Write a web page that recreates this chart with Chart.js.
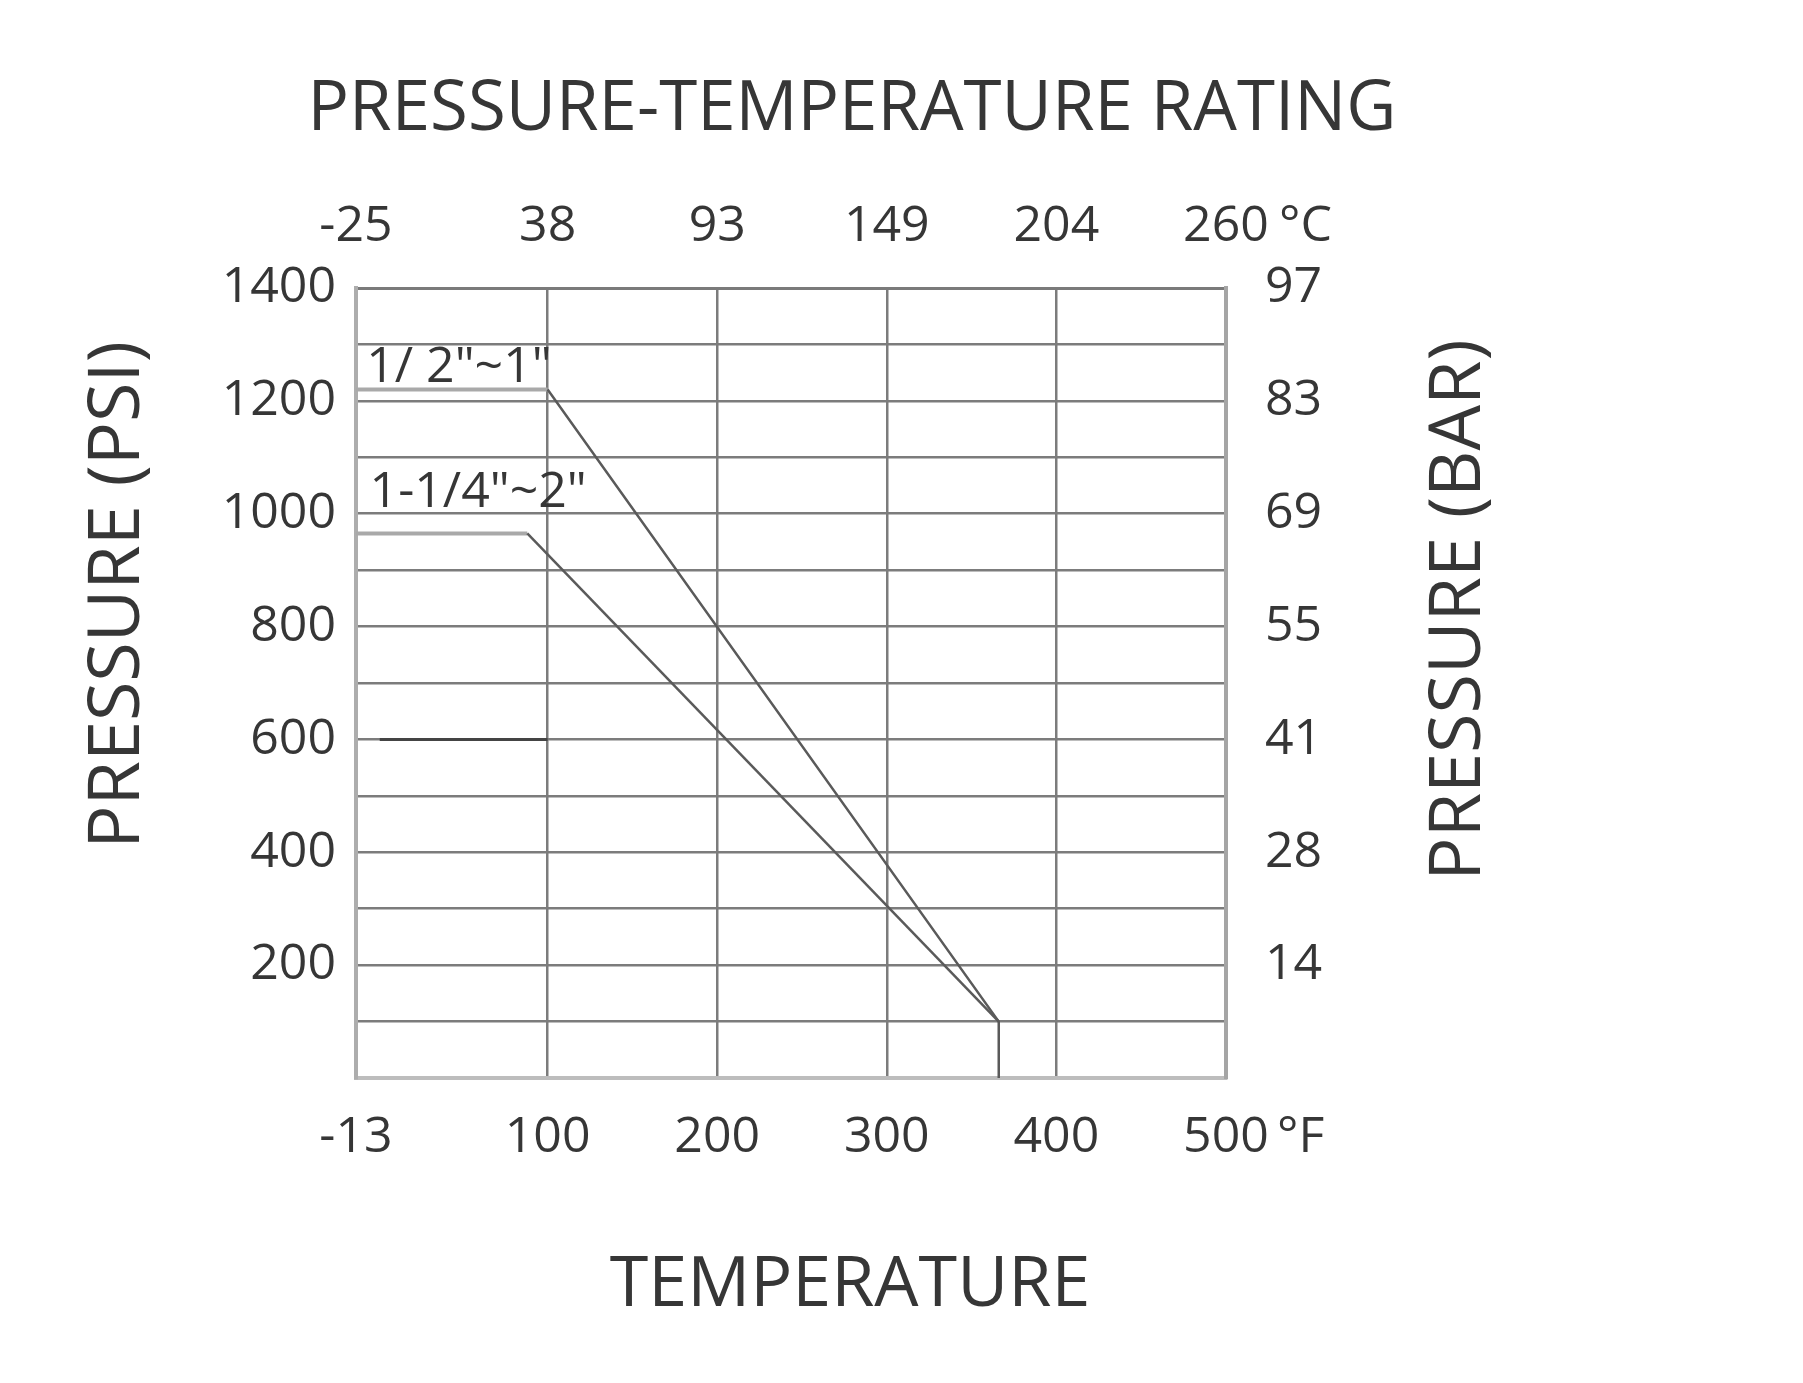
<!DOCTYPE html>
<html>
<head>
<meta charset="utf-8">
<title>Pressure-Temperature Rating</title>
<script src="https://cdn.jsdelivr.net/npm/chart.js@4.4.1/dist/chart.umd.min.js"></script>
<style>
  html, body { margin: 0; padding: 0; background: #fff; }
  #wrap { width: 1803px; height: 1383px; }
</style>
</head>
<body>
<div id="wrap"><canvas id="chart" width="1803" height="1383"></canvas></div>
<script>
  /* ---- data ---- */
  var TEMP_F_TICKS   = [-13, 100, 200, 300, 400, 500];
  var TEMP_C_LABELS  = ['-25', '38', '93', '149', '204', '260'];
  var PSI_LABELED    = [200, 400, 600, 800, 1000, 1200, 1400];
  var BAR_LABELS     = ['14', '28', '41', '55', '69', '83', '97'];

  var SERIES_NAMES   = ['1/ 2"~1"', '1-1/4"~2"'];
  var SMALL_F        = [-13, 100, 366, 366];
  var SMALL_PSI      = [1220, 1220, 100, 0];
  var LARGE_F        = [-13, 88, 366];
  var LARGE_PSI      = [965, 965, 100];
  var MARK600_F      = [1, 100];
  var MARK600_PSI    = [600, 600];

  var TEXT  = '#363636';
  var GRID  = '#7c7c7c';
  var FLAT  = '#a9a9a9';
  var SLOPE = '#5a5a5a';
  var FONT  = '"Open Sans", "Noto Sans", sans-serif';

  function toPoints(xs, ys) {
    return xs.map(function (x, i) { return { x: x, y: ys[i] }; });
  }
  function isFlat(ctx) { return ctx.p0.parsed.y === ctx.p1.parsed.y; }

  // flat runs are drawn light and thick, the derating slopes dark and thin
  var seriesStyle = {
    fill: false,
    tension: 0,
    pointRadius: 0,
    borderColor: SLOPE,
    borderWidth: 2.5,
    segment: {
      borderColor: function (ctx) { return isFlat(ctx) ? FLAT : SLOPE; },
      borderWidth: function (ctx) { return isFlat(ctx) ? 4 : 2.5; }
    }
  };

  var textPlugin = {
    id: 'ratingText',
    afterDraw: function (chart) {
      var ctx = chart.ctx;
      var xs = chart.scales.x, ys = chart.scales.y;
      ctx.save();
      ctx.fillStyle = TEXT;

      ctx.font = '69px ' + FONT;
      ctx.textAlign = 'center';
      ctx.textBaseline = 'middle';
      ctx.fillText('PRESSURE-TEMPERATURE RATING', 852, 110);

      ctx.font = '70px ' + FONT;
      ctx.fillText('TEMPERATURE', 850, 1286);

      ctx.font = '72px ' + FONT;
      ctx.save();
      ctx.translate(118, 595);
      ctx.rotate(-Math.PI / 2);
      ctx.fillText('PRESSURE (PSI)', 0, 0);
      ctx.restore();

      ctx.save();
      ctx.translate(1459, 610);
      ctx.rotate(-Math.PI / 2);
      ctx.fillText('PRESSURE (BAR)', 0, 0);
      ctx.restore();

      // units after the last temperature ticks
      var xEnd = xs.getPixelForValue(500);
      ctx.font = '50px ' + FONT;
      ctx.textAlign = 'left';
      ctx.fillText('\u00B0C', xEnd + 53, 227);
      ctx.fillText('\u00B0F', xEnd + 51, 1138);

      // size labels on the curves
      ctx.font = '50px ' + FONT;
      ctx.fillText(SERIES_NAMES[0], xs.getPixelForValue(-7), ys.getPixelForValue(1258));
      ctx.fillText(SERIES_NAMES[1], xs.getPixelForValue(-5), ys.getPixelForValue(1038));
      ctx.restore();
    }
  };

  function fixedTicks(scale) {
    scale.ticks = TEMP_F_TICKS.map(function (v) { return { value: v }; });
  }

  var tickFont = { family: FONT, size: 50 };

  new Chart(document.getElementById('chart'), {
    type: 'line',
    data: {
      datasets: [
        Object.assign({ label: SERIES_NAMES[0], data: toPoints(SMALL_F, SMALL_PSI) }, seriesStyle),
        Object.assign({ label: SERIES_NAMES[1], data: toPoints(LARGE_F, LARGE_PSI) }, seriesStyle),
        {
          label: 'mark',
          data: toPoints(MARK600_F, MARK600_PSI),
          borderColor: '#444',
          borderWidth: 3,
          pointRadius: 0,
          fill: false
        }
      ]
    },
    options: {
      responsive: false,
      animation: false,
      layout: { padding: 0 },
      plugins: {
        legend: { display: false },
        tooltip: { enabled: false },
        title: { display: false }
      },
      scales: {
        x: {
          type: 'linear',
          position: 'bottom',
          min: -13,
          max: 500,
          afterBuildTicks: fixedTicks,
          afterFit: function (s) { s.height = 1383 - 1078; },
          ticks: {
            padding: 30,
            color: TEXT,
            font: tickFont,
            maxRotation: 0,
            autoSkip: false,
            callback: function (v) { return String(v); }
          },
          grid: { color: GRID, lineWidth: 2.5, drawTicks: false },
          border: { color: '#bdbdbd', width: 4 }
        },
        x2: {
          type: 'linear',
          position: 'top',
          min: -13,
          max: 500,
          afterBuildTicks: fixedTicks,
          afterFit: function (s) { s.height = 288; },
          ticks: {
            padding: 31,
            color: TEXT,
            font: tickFont,
            maxRotation: 0,
            autoSkip: false,
            callback: function (v, i) { return TEMP_C_LABELS[i]; }
          },
          grid: { display: false, drawTicks: false },
          border: { color: '#7a7a7a', width: 3 }
        },
        y: {
          type: 'linear',
          position: 'left',
          min: 0,
          max: 1400,
          afterFit: function (s) { s.width = 356; },
          ticks: {
            stepSize: 100,
            padding: 20,
            color: TEXT,
            font: tickFont,
            autoSkip: false,
            callback: function (v) {
              return PSI_LABELED.indexOf(v) !== -1 ? String(v) : '';
            }
          },
          grid: { color: GRID, lineWidth: 2.5, drawTicks: false },
          border: { color: '#adadad', width: 4 }
        },
        y2: {
          type: 'linear',
          position: 'right',
          min: 0,
          max: 1400,
          afterFit: function (s) { s.width = 1803 - 1226; },
          ticks: {
            stepSize: 100,
            padding: 39,
            color: TEXT,
            font: tickFont,
            autoSkip: false,
            callback: function (v) {
              var i = PSI_LABELED.indexOf(v);
              return i !== -1 ? BAR_LABELS[i] : '';
            }
          },
          grid: { display: false, drawTicks: false },
          border: { color: '#a5a5a5', width: 4 }
        }
      }
    },
    plugins: [textPlugin]
  });
</script>
</body>
</html>
